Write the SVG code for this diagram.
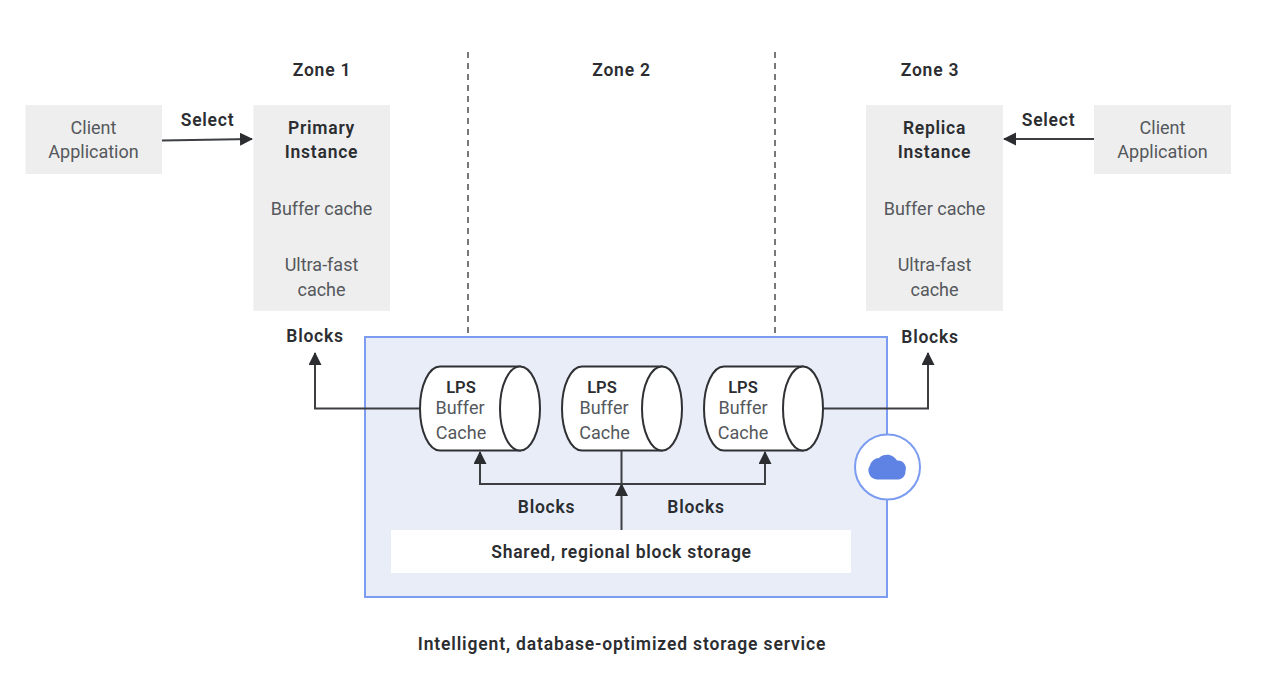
<svg xmlns="http://www.w3.org/2000/svg" width="1262" height="680" viewBox="0 0 1262 680">
<style>
text{font-family:Roboto,"Liberation Sans",sans-serif;text-anchor:middle}
.b{font-size:17.5px;font-weight:600;fill:#2b2d31;letter-spacing:.75px}
.w{font-size:17.5px;font-weight:600;fill:#2b2d31;letter-spacing:.85px}
.l{font-size:16.5px;font-weight:600;fill:#2b2d31}
.r{font-size:18px;font-weight:400;fill:#55585c}
.box{fill:#eeeeee}
.cyl{fill:#fff;stroke:#2f3134;stroke-width:2}
.c{fill:none;stroke:#3c3e41;stroke-width:2}
.d{fill:none;stroke:#4a4c4f;stroke-width:1.5;stroke-dasharray:6 5}
</style>
<defs>
<marker id="a" markerUnits="userSpaceOnUse" markerWidth="14" markerHeight="14" refX="12" refY="6.5" orient="auto"><path d="M0 0L13 6.5L0 13Z" fill="#2b2d31"/></marker>
</defs>
<rect width="1262" height="680" fill="#fff"/>
<g id="storage-service">
<rect x="365" y="337" width="522" height="260" fill="#e8edf8" stroke="#7b9cf0" stroke-width="2"/>
<rect x="391" y="530" width="460" height="43" fill="#fff"/>
<text class="b" x="621.500" y="558">Shared, regional block storage</text>
<text class="w" x="622" y="649.500">Intelligent, database-optimized storage service</text>
</g>
<g id="zone-lines">
<path class="d" d="M468 52V336M775 52V336"/>
<text class="b" x="322" y="75.500">Zone 1</text>
<text class="b" x="621.500" y="75.500">Zone 2</text>
<text class="b" x="930" y="75.500">Zone 3</text>
</g>
<g id="connectors">
<path class="c" d="M162 140.500L252 139" marker-end="url(#a)"/>
<path class="c" d="M1094 139H1004" marker-end="url(#a)"/>
<path class="c" d="M420 408.500H315V353" marker-end="url(#a)"/>
<path class="c" d="M823 408.500H928V353" marker-end="url(#a)"/>
<path class="c" d="M621.500 451V484"/>
<path class="c" d="M621.500 530V484"  marker-end="url(#a)"/>
<path class="c" d="M621.500 484H480V452" marker-end="url(#a)"/>
<path class="c" d="M621.500 484H765V452" marker-end="url(#a)"/>
<text class="b" x="207.500" y="125.500">Select</text>
<text class="b" x="1048.500" y="125.500">Select</text>
<text class="b" x="315" y="341.500">Blocks</text>
<text class="b" x="930" y="342.500">Blocks</text>
<text class="b" x="546.500" y="512.500">Blocks</text>
<text class="b" x="696" y="512.500">Blocks</text>
</g>
<g id="client-left">
<rect class="box" x="25.500" y="105" width="136.500" height="69"/>
<text class="r" x="93.500" y="134">Client</text>
<text class="r" x="93.500" y="158">Application</text>
</g>
<g id="primary-instance">
<rect class="box" x="253.500" y="105" width="136.500" height="206"/>
<text class="b" x="321.500" y="134">Primary</text>
<text class="b" x="321.500" y="158">Instance</text>
<text class="r" x="321.500" y="215">Buffer cache</text>
<text class="r" x="321.500" y="271">Ultra-fast</text>
<text class="r" x="321.500" y="296">cache</text>
</g>
<g id="replica-instance">
<rect class="box" x="866" y="105" width="137" height="206"/>
<text class="b" x="934.500" y="134">Replica</text>
<text class="b" x="934.500" y="158">Instance</text>
<text class="r" x="934.500" y="215">Buffer cache</text>
<text class="r" x="934.500" y="271">Ultra-fast</text>
<text class="r" x="934.500" y="296">cache</text>
</g>
<g id="client-right">
<rect class="box" x="1094" y="105" width="137" height="69"/>
<text class="r" x="1162.500" y="134">Client</text>
<text class="r" x="1162.500" y="158">Application</text>
</g>
<g id="lps-1">
<path class="cyl" d="M440 366.500H520V450.500H440A20 42 0 0 1 440 366.500Z"/>
<ellipse class="cyl" cx="520" cy="408.500" rx="20" ry="42"/>
<text class="l" x="461" y="393">LPS</text>
<text class="r" x="460" y="414">Buffer</text>
<text class="r" x="461" y="439">Cache</text>
</g>
<g id="lps-2">
<path class="cyl" d="M582 366.500H662V450.500H582A20 42 0 0 1 582 366.500Z"/>
<ellipse class="cyl" cx="662" cy="408.500" rx="20" ry="42"/>
<text class="l" x="602" y="393">LPS</text>
<text class="r" x="604" y="414">Buffer</text>
<text class="r" x="604.500" y="439">Cache</text>
</g>
<g id="lps-3">
<path class="cyl" d="M724 366.500H803V450.500H724A20 42 0 0 1 724 366.500Z"/>
<ellipse class="cyl" cx="803" cy="408.500" rx="20" ry="42"/>
<text class="l" x="743" y="393">LPS</text>
<text class="r" x="743" y="414">Buffer</text>
<text class="r" x="743" y="439">Cache</text>
</g>
<g id="cloud-badge">
<circle cx="887.500" cy="467" r="32.500" fill="#fff" stroke="#7b9cf0" stroke-width="2"/>
<path d="M877 479.500A9 9 0 0 1 870 465.500A9.500 9.500 0 0 1 879 458A11.500 11.500 0 0 1 897 460.500A8 8 0 0 1 905.500 471A8 8 0 0 1 899 479.500Z" fill="#5f83e4"/>
</g>
</svg>
